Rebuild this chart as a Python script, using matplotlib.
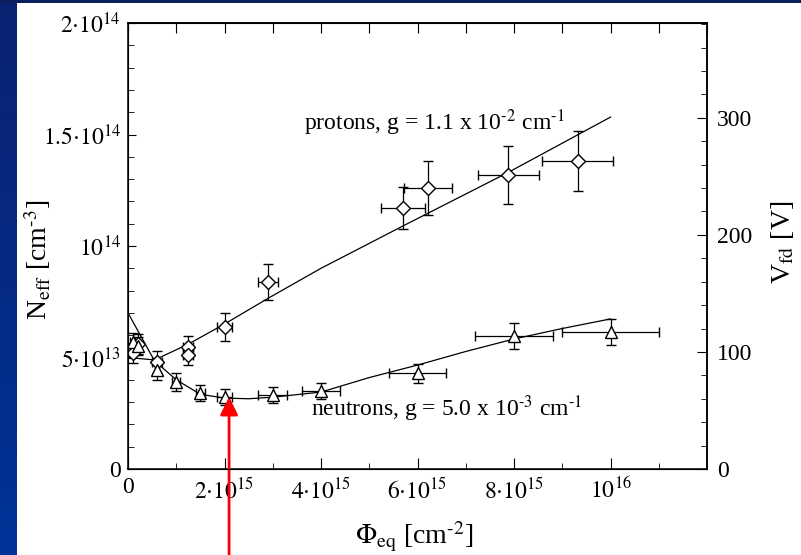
import numpy as np
import matplotlib
matplotlib.use("Agg")
import matplotlib.pyplot as plt
from matplotlib.ticker import FixedLocator, MultipleLocator
from matplotlib.colors import LinearSegmentedColormap

plt.rcParams['font.family'] = 'serif'
plt.rcParams['font.serif'] = ['Liberation Serif', 'DejaVu Serif']
plt.rcParams['mathtext.fontset'] = 'stix'

# data (x in 1e15 cm^-2, y in 1e14 cm^-3)
p_x = [0.1, 0.2, 0.6, 1.25, 1.25, 2.0, 2.9, 5.7, 6.22, 7.88, 9.32]
p_y = [0.52, 0.56, 0.48, 0.547, 0.511, 0.637, 0.838, 1.17, 1.26, 1.32, 1.38]
p_xerr = [0.05, 0.05, 0.1, 0.1, 0.1, 0.15, 0.2, 0.45, 0.5, 0.63, 0.73]
p_yerr = [0.045, 0.045, 0.05, 0.05, 0.045, 0.063, 0.08, 0.094, 0.12, 0.13, 0.135]

n_x = [0.1, 0.2, 0.6, 1.0, 1.5, 2.0, 3.0, 4.0, 6.0, 8.0, 10.0]
n_y = [0.57, 0.55, 0.444, 0.39, 0.341, 0.323, 0.332, 0.35, 0.43, 0.596, 0.614]
n_xerr = [0.05, 0.05, 0.05, 0.08, 0.1, 0.16, 0.3, 0.4, 0.6, 0.8, 1.0]
n_yerr = [0.04, 0.04, 0.045, 0.04, 0.035, 0.035, 0.036, 0.036, 0.043, 0.058, 0.06]

pf_x = [0.0, 0.55, 1.25, 2.0, 2.9, 4.0, 5.7, 7.88, 10.0]
pf_y = [0.50, 0.489, 0.56, 0.65, 0.765, 0.90, 1.09, 1.33, 1.578]

nf_x = [0.0, 0.55, 1.0, 1.5, 2.0, 2.5, 3.0, 4.0, 5.0, 6.0, 7.0, 8.0, 9.0, 10.0]
nf_y = [0.70, 0.485, 0.40, 0.335, 0.318, 0.315, 0.322, 0.345, 0.41, 0.466, 0.527, 0.583, 0.63, 0.673]

x_ticks = [0, 2, 4, 6, 8, 10]
x_labels = ['0', r'$2{\cdot}10^{15}$', r'$4{\cdot}10^{15}$', r'$6{\cdot}10^{15}$',
            r'$8{\cdot}10^{15}$', r'$10^{16}$']
y_ticks = [0, 0.5, 1.0, 1.5, 2.0]
y_labels = ['0', r'$5{\cdot}10^{13}$', r'$10^{14}$', r'$1.5{\cdot}10^{14}$', r'$2{\cdot}10^{14}$']
v_ticks = [0, 100, 200, 300]

fig = plt.figure(figsize=(8.01, 5.55), dpi=100)
fig.patch.set_facecolor('white')

# slide background: blue strip on the left, thin dark band on top
bg = fig.add_axes([0, 0, 17 / 801, 1])
grad = np.linspace(0, 1, 256).reshape(-1, 1)
cmap = LinearSegmentedColormap.from_list('slide', ['#0a2270', '#003399'])
bg.imshow(grad, aspect='auto', cmap=cmap, extent=[0, 1, 0, 1], origin='upper')
bg.axis('off')
top = fig.add_axes([0, 1 - 3 / 555, 1, 3 / 555])
top.set_facecolor('#0a1f5c')
top.set_xticks([])
top.set_yticks([])
for s in top.spines.values():
    s.set_visible(False)

ax = fig.add_axes([128 / 801, 86 / 555, 579 / 801, 446 / 555])
ax.set_xlim(0, 12.0)
ax.set_ylim(0, 2.0)

ax.plot(pf_x, pf_y, color='black', lw=0.9)
ax.plot(nf_x, nf_y, color='black', lw=0.9)
ax.errorbar(p_x, p_y, xerr=p_xerr, yerr=p_yerr, fmt='D', ms=7, mfc='white',
            mec='black', mew=1.0, ecolor='black', elinewidth=0.9, capsize=3.5, capthick=0.9)
ax.errorbar(n_x, n_y, xerr=n_xerr, yerr=n_yerr, fmt='^', ms=8.5, mfc='white',
            mec='black', mew=1.0, ecolor='black', elinewidth=0.9, capsize=3.5, capthick=0.9)

ax.xaxis.set_major_locator(FixedLocator(x_ticks))
ax.set_xticklabels(x_labels)
ax.xaxis.set_minor_locator(MultipleLocator(1))
ax.yaxis.set_major_locator(FixedLocator(y_ticks))
ax.set_yticklabels(y_labels)
ax.yaxis.set_minor_locator(MultipleLocator(0.1))
ax.tick_params(which='both', direction='in', labelsize=17, right=False, top=False)
ax.tick_params(axis='x', which='major', length=8, pad=6)
ax.tick_params(axis='x', which='minor', length=4)
ax.tick_params(axis='y', which='major', length=6, pad=5)
ax.tick_params(axis='y', which='minor', length=4)
for s in ax.spines.values():
    s.set_linewidth(1.1)

sec = ax.secondary_xaxis('top')
sec.xaxis.set_major_locator(MultipleLocator(1))
sec.tick_params(direction='in', length=7, labeltop=False)
sec.spines['top'].set_linewidth(1.1)

ax2 = ax.twinx()
ax2.set_ylim(0, 381)
ax2.yaxis.set_major_locator(FixedLocator(v_ticks))
ax2.yaxis.set_minor_locator(MultipleLocator(20))
ax2.tick_params(which='both', direction='in', labelsize=17, pad=7)
ax2.tick_params(which='major', length=7)
ax2.tick_params(which='minor', length=4)
ax2.spines['right'].set_linewidth(1.1)

ax.set_xlabel(r'$\Phi_{\rm eq}$ [cm$^{\text{-2}}$]', fontsize=20)
ax.xaxis.set_label_coords((414 - 128) / 579, -(537 - 469) / 446)
ax.xaxis.label.set_va('center')
ax.set_ylabel(r'N$_{\rm eff}$ [cm$^{\text{-3}}$]', fontsize=20)
ax.yaxis.set_label_coords((38 - 128) / 579, (469 - 260) / 446)
ax.yaxis.label.set_va('center')
ax2.set_ylabel(r'V$_{\rm fd}$ [V]', fontsize=20)
ax2.yaxis.set_label_coords((782 - 128) / 579, (469 - 242) / 446)
ax2.yaxis.label.set_va('center')

ax.text(3.65, 1.52, r'protons, g = 1.1 x 10$^{\text{-2}}$ cm$^{\text{-1}}$', fontsize=17, va='baseline')
ax.text(3.8, 0.235, r'neutrons, g = 5.0 x 10$^{\text{-3}}$ cm$^{\text{-1}}$', fontsize=17, va='baseline')

ax.annotate('', xy=(2.095, 0.323), xycoords='data',
            xytext=(2.095, 0.0), textcoords=('data', 'figure fraction'),
            arrowprops=dict(arrowstyle='-|>', color='red', lw=2, mutation_scale=27,
                            shrinkA=0, shrinkB=0),
            annotation_clip=False)

fig.savefig('out.png', dpi=100)
